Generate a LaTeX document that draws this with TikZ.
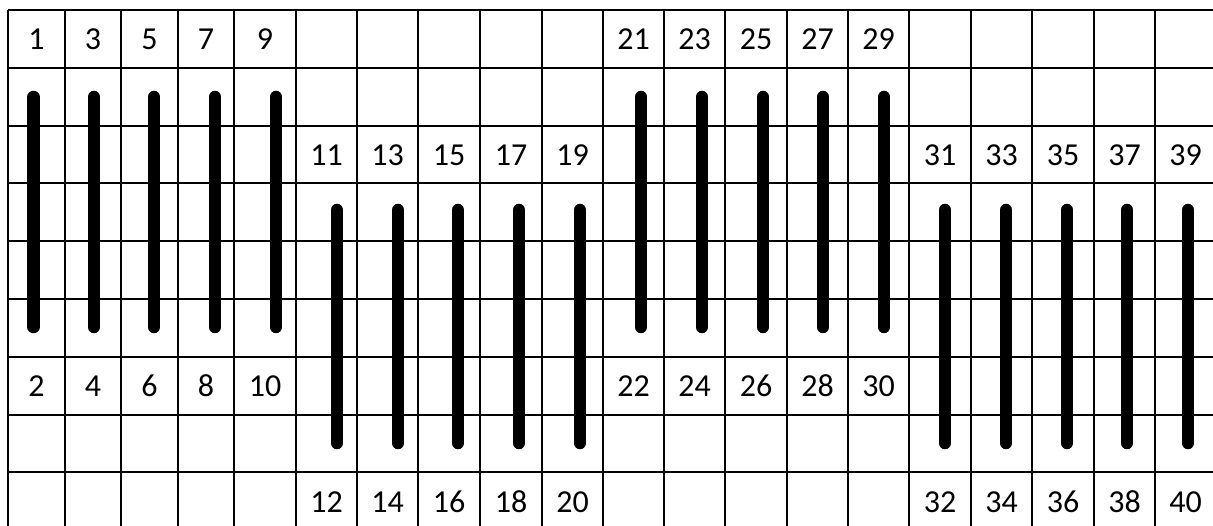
\documentclass[tikz,border=0pt]{standalone}
\usepackage{fontspec}
\setmainfont{Carlito}
\begin{document}
\begin{tikzpicture}[x=1pt,y=-1pt,
  gridline/.style={line width=2pt},
  bar/.style={line width=12.5pt, line cap=round},
  lab/.style={font=\fontsize{32}{32}\selectfont, inner sep=0pt, anchor=center}]
\useasboundingbox (0,0) rectangle (1213,526);
\clip (0,0) rectangle (1213,526);
% grid
\foreach \x in {8,65,121,178,234,296,357,418,480,542,603,664,725,787,848,909,971,1032,1094,1155,1216}
  \draw[gridline] (\x,10) -- (\x,531);
\foreach \y in {10,67.8,125.6,183.4,241.2,299,356.8,414.6,472.4,530.2}
  \draw[gridline] (8,\y) -- (1216,\y);
% labels
\foreach \cx/\a/\b in {36.5/1/2,93/3/4,149.5/5/6,206/7/8,265/9/10,
                       633.5/21/22,694.5/23/24,756/25/26,817.5/27/28,878.5/29/30}{
  \node[lab] (t\a) at (\cx,39.5) {\a};
  \node[lab] (t\b) at (\cx,386) {\b};
}
\foreach \cx/\a/\b in {326.5/11/12,387.5/13/14,449/15/16,511/17/18,572.5/19/20,
                       940/31/32,1001.5/33/34,1063/35/36,1124.5/37/38,1185.5/39/40}{
  \node[lab] (t\a) at (\cx,155) {\a};
  \node[lab] (t\b) at (\cx,502) {\b};
}
% bars
\foreach \bx in {33.5,94,154,215,276,641,702,763,823,884}
  \draw[bar] (\bx,97) -- (\bx,327);
\foreach \bx in {337,398,458,519,580,945,1006,1067,1127,1188}
  \draw[bar] (\bx,210) -- (\bx,443);
\end{tikzpicture}
\end{document}
